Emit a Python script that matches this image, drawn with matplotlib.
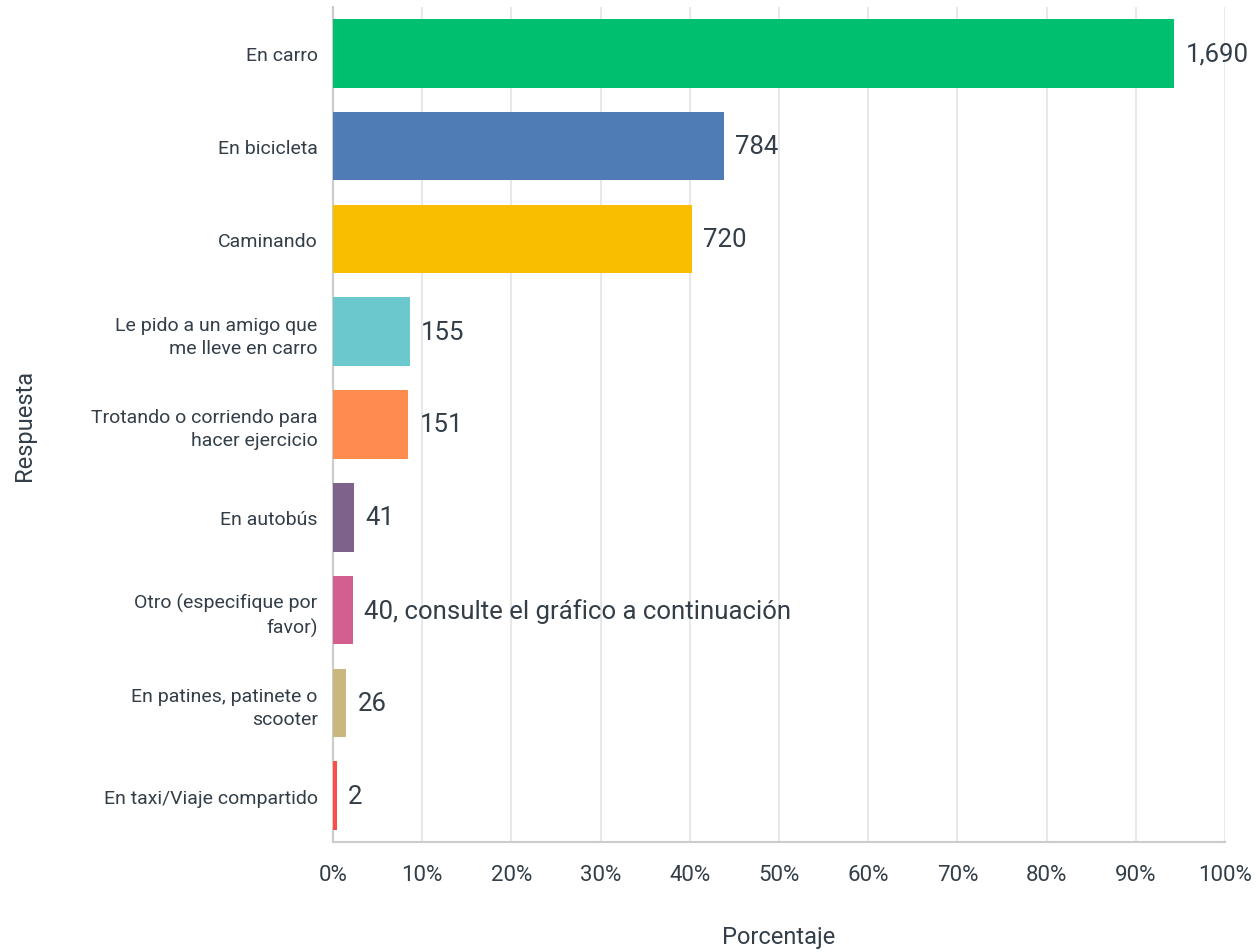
import matplotlib
matplotlib.use("Agg")
import matplotlib.pyplot as plt
from matplotlib.ticker import PercentFormatter

plt.rcParams["font.family"] = ["Roboto", "DejaVu Sans"]

# --- datos ---
categorias = [
    "En carro",
    "En bicicleta",
    "Caminando",
    "Le pido a un amigo que\nme lleve en carro",
    "Trotando o corriendo para\nhacer ejercicio",
    "En autobús",
    "Otro (especifique por\nfavor)",
    "En patines, patinete o\nscooter",
    "En taxi/Viaje compartido",
]
porcentajes = [94.3, 43.8, 40.2, 8.6, 8.4, 2.3, 2.2, 1.5, 0.4]
etiquetas = ["1,690", "784", "720", "155", "151", "41",
             "40, consulte el gráfico a continuación", "26", "2"]
colores = ["#00BF6F", "#507CB6", "#F9BE00", "#6BC8CD", "#FF8B4F",
           "#7F628B", "#D25F90", "#C9B77E", "#FF4A4A"]

TXT = "#333E48"

fig = plt.figure(figsize=(12.57, 9.53), dpi=100)
ax = fig.add_axes([333 / 1257, 1 - 843 / 953, 892 / 1257, 835 / 953])

y = list(range(len(categorias)))
ax.barh(y, porcentajes, height=0.74, color=colores, zorder=3)
for yi, p, lab in zip(y, porcentajes, etiquetas):
    ax.text(p + 1.3, yi, lab, va="center", ha="left", fontsize=18.5, color=TXT, zorder=4)

ax.set_xlim(0, 100)
ax.set_ylim(8.5, -0.5)
ax.set_xticks(range(0, 101, 10))
ax.xaxis.set_major_formatter(PercentFormatter(decimals=0))
ax.set_yticks(y)
ax.set_yticklabels(categorias, fontsize=14, color=TXT, linespacing=1.35)
ax.tick_params(axis="x", labelsize=16, colors=TXT, length=0, pad=16)
ax.tick_params(axis="y", length=0, pad=11)
ax.grid(axis="x", color="#E8E8E8", lw=1.5, zorder=0)

for s in ("top", "right"):
    ax.spines[s].set_visible(False)
for s in ("left", "bottom"):
    ax.spines[s].set_color("#CCCCCC")
    ax.spines[s].set_linewidth(1.5)

ax.set_xlabel("Porcentaje", fontsize=17, color=TXT, labelpad=29)
ax.set_ylabel("Respuesta", fontsize=17, color=TXT, labelpad=40)

fig.savefig("out.png", dpi=100)
